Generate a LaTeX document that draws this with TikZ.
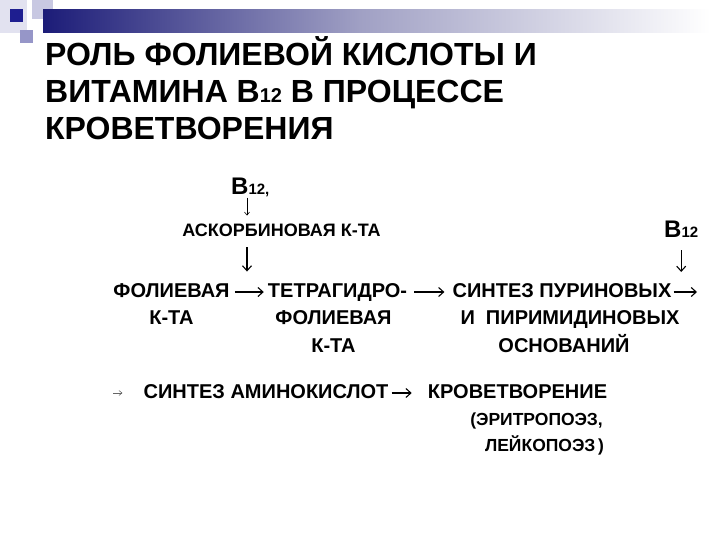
\documentclass[tikz,border=0pt]{standalone}
\usepackage{fontspec}
\setmainfont{Liberation Sans}
\usetikzlibrary{positioning,arrows.meta}
\definecolor{barnavy}{RGB}{28,28,120}
\definecolor{barmid}{RGB}{160,160,196}
\definecolor{sqpale}{RGB}{226,226,240}
\definecolor{sqlight}{RGB}{200,200,226}
\definecolor{sqmid}{RGB}{150,150,200}
\definecolor{sqdark}{RGB}{30,30,144}
\tikzstyle{title} = [anchor=north west, align=left, inner sep=0pt, font=\bfseries\fontsize{32}{37}\selectfont]
\tikzstyle{term} = [inner sep=0pt, text height=14.5pt, text depth=4pt, font=\bfseries\fontsize{20}{20}\selectfont]
\tikzstyle{small} = [inner sep=0pt, text height=12.5pt, text depth=3.5pt, font=\bfseries\fontsize{17.5}{17.5}\selectfont]
\tikzstyle{vit} = [inner sep=0pt, anchor=base west, font=\bfseries\fontsize{24}{24}\selectfont]
\tikzstyle{line} = [draw, line width=1.1pt, -{Straight Barb[length=5pt,width=9pt]}]
\tikzstyle{thin} = [draw, line width=0.6pt, -{Straight Barb[length=3pt,width=5pt]}]
\newcommand{\idx}[1]{{\fontsize{15}{15}\selectfont #1}}

\begin{document}
\begin{tikzpicture}[x=1pt, y=-1pt, node distance = 27.5pt]
    \useasboundingbox (0,0) rectangle (720,540);

    % Slide decoration
    \fill [sqpale] (0,0) rectangle (27,33);
    \fill [sqlight] (32,0) rectangle (53,19);
    \fill [sqmid] (20,30) rectangle (33,43);
    \fill [sqdark] (10,9) rectangle (23,22);
    \shade [left color=barnavy, right color=barmid] (43,10) rectangle (360,33);
    \shade [left color=barmid, right color=white] (360,10) rectangle (710,33);

    % Place nodes
    \node [title] (heading) at (45,36) {РОЛЬ ФОЛИЕВОЙ КИСЛОТЫ И\\
        ВИТАМИНА В{\fontsize{20}{20}\selectfont 12} В ПРОЦЕССЕ\\
        КРОВЕТВОРЕНИЯ};
    \node [vit] (b12-left) at (231,195) {В\idx{12,}};
    \node [term, font=\bfseries\fontsize{18}{18}\selectfont, text height=13pt, text depth=3.5pt] (ascorbic) at (281.5,232) {АСКОРБИНОВАЯ К-ТА};
    \node [vit] (b12-right) at (664,237) {В\idx{12}};
    \node [term] (folic) at (171.5,292) {ФОЛИЕВАЯ};
    \node [term, below of=folic] (folic-2) {К-ТА};
    \node [term] (thf) at (337.5,292) {ТЕТРАГИДРО-};
    \node [term, below of=thf, xshift=-4pt] (thf-2) {ФОЛИЕВАЯ};
    \node [term, below of=thf-2] (thf-3) {К-ТА};
    \node [term] (purine) at (562,292) {СИНТЕЗ ПУРИНОВЫХ};
    \node [term, below of=purine, xshift=8pt] (purine-2) {И\ \ ПИРИМИДИНОВЫХ};
    \node [term, below of=purine-2, xshift=-6pt] (purine-3) {ОСНОВАНИЙ};
    \node [term] (amino) at (266,393) {СИНТЕЗ АМИНОКИСЛОТ};
    \node [term] (hemato) at (517.5,393) {КРОВЕТВОРЕНИЕ};
    \node [small, below of=hemato, node distance=28pt, xshift=19pt] (erythro) {(ЭРИТРОПОЭЗ,};
    \node [small, below of=erythro, node distance=26pt, xshift=8pt] (leuko) {ЛЕЙКОПОЭЗ\,)};
    \coordinate (left-axis) at (247,0);
    \coordinate (purine-out) at (697,292);
    \coordinate (amino-in) at (113,393);
    \coordinate (b12-down) at (683,272);

    % Draw edges
    \path [thin] (b12-left.south -| left-axis) -- ([yshift=8pt]ascorbic.north -| left-axis);
    \path [line] (ascorbic.south -| left-axis) ++(0,7) -- ([yshift=11pt]thf.north -| left-axis);
    \path [line] (b12-right.south |- 0,250) -- (b12-right.south |- b12-down);
    \path [line, shorten <=5pt, shorten >=4pt] (folic) -- (thf);
    \path [line, shorten <=7pt, shorten >=8pt] (thf) -- (purine);
    \path [line, shorten <=2pt] (purine) -- (purine-out);
    \path [thin, draw=black!60, shorten >=21pt] (amino-in) -- (amino);
    \path [line, shorten <=3pt, shorten >=16pt] (amino) -- (hemato);
\end{tikzpicture}
\end{document}
